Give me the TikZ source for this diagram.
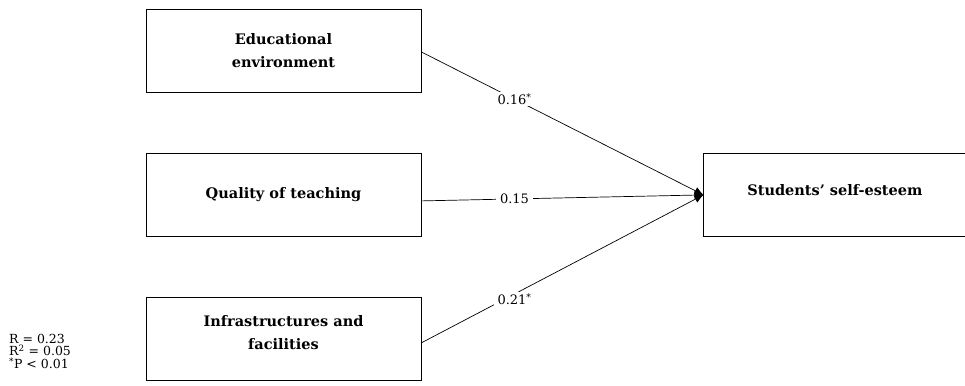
\documentclass[tikz,border=0pt]{standalone}
\usepackage{fontspec}
\setmainfont{DejaVu Serif}
\usetikzlibrary{arrows.meta, positioning}

\begin{document}
\begin{tikzpicture}[
			x=1pt, y=-1pt,
			node distance=60pt and 282pt,
			box/.style={draw, rectangle, line width=0.9pt, align=center, minimum width=275pt, minimum height=83pt, font=\bfseries\fontsize{14.5}{23}\selectfont},
			coef/.style={fill=white, inner xsep=4pt, inner ysep=1.5pt, font=\fontsize{13}{15}\selectfont},
			arrow/.style={-{Latex[length=9pt,width=8pt]}, line width=0.7pt}
			]
			\useasboundingbox (0,0) rectangle (965,385);
			
			% Nodes
			\node (env) [box] at (283.5,51) {Educational\\environment};
			\node (teach) [box, below=of env] {Quality of teaching};
			\node (infra) [box, below=of teach] {Infrastructures and\\facilities\\[-11pt]};
			\node (esteem) [box, right=of teach, minimum width=262pt] {\raisebox{5pt}[\height][\depth]{Students’ self-esteem}};
			\node (stats) [anchor=north west, align=left, inner sep=0pt, font=\fontsize{12.5}{12.5}\selectfont] at (9,334) {R = 0.23\\R\textsuperscript{2} = 0.05\\\textsuperscript{*}P < 0.01};
			
			% Connections
			\draw [arrow] (env.east) ++(0,1) -- node[coef, pos=0.33] {0.16\textsuperscript{*}} (esteem.west);
			\draw [arrow] (teach.east) ++(0,6) -- node[coef, pos=0.33] {0.15} (esteem.west);
			\draw [arrow] (infra.east) ++(0,4) -- node[coef, pos=0.33, yshift=-5pt] {0.21\textsuperscript{*}} (esteem.west);
			
		\end{tikzpicture}
\end{document}
